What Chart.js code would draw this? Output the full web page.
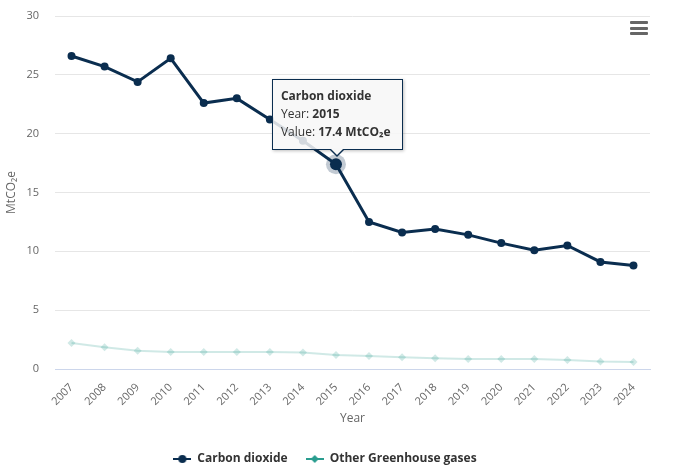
<!DOCTYPE html>
<html>
<head>
<meta charset="utf-8">
<script src="https://cdn.jsdelivr.net/npm/chart.js@4.4.0/dist/chart.umd.js"></script>
<style>
  html, body { margin: 0; padding: 0; background: #fff; }
  #wrap { position: relative; width: 676px; height: 475px; }
  #menu { position: absolute; left: 630px; top: 21px; width: 18px; }
  #menu div { height: 3px; background: #666; border-radius: 1px; margin-bottom: 2.5px; }
  #tip {
    position: absolute; display: none; box-sizing: border-box;
    width: 131px; height: 71px; padding: 7px 8px;
    background: rgba(247,247,247,0.85); border: 1px solid #0a2d4f;
    box-shadow: 1px 1px 3px rgba(0,0,0,0.25);
    font: 12px "Open Sans", sans-serif; color: #333; line-height: 18px;
  }
  #tip b { font-weight: bold; }
  #tip .caret, #tip .caret2 {
    position: absolute; left: 50%; width: 0; height: 0; border-style: solid;
  }
  #tip .caret { bottom: -8px; margin-left: -8px; border-width: 8px 8px 0 8px; border-color: #0a2d4f transparent transparent transparent; }
  #tip .caret2 { bottom: -6px; margin-left: -7px; border-width: 7px 7px 0 7px; border-color: #f7f7f7 transparent transparent transparent; }
</style>
</head>
<body>
<div id="wrap">
  <canvas id="chart" width="676" height="475"></canvas>
  <div id="menu"><div></div><div></div><div></div></div>
  <div id="tip"></div>
</div>
<script>
// dati (MtCO2e)
const years = ['2007', '2008', '2009', '2010', '2011', '2012', '2013', '2014', '2015',
    '2016', '2017', '2018', '2019', '2020', '2021', '2022', '2023', '2024'];
const carbonDioxide = [26.6, 25.7, 24.4, 26.4, 22.6, 23.0, 21.2, 19.4, 17.4,
    12.5, 11.6, 11.9, 11.4, 10.7, 10.1, 10.5, 9.1, 8.8];
const otherGases = [2.2, 1.85, 1.55, 1.45, 1.45, 1.45, 1.45, 1.4, 1.2,
    1.1, 1.0, 0.92, 0.85, 0.85, 0.85, 0.76, 0.63, 0.6];
const yTicks = [0, 5, 10, 15, 20, 25, 30];

const seriesNames = ['Carbon dioxide', 'Other Greenhouse gases'];
const navy = '#0a2d4f';
const teal = '#2a9d8f';
const tealFaded = 'rgba(42,157,143,0.22)';
const activeIndex = 8;

const FONT = '"Open Sans", sans-serif';

// icona della legenda: linea con marker al centro
function legendIcon(color, diamond) {
    const c = document.createElement('canvas');
    c.width = 18; c.height = 10;
    const g = c.getContext('2d');
    g.strokeStyle = color; g.fillStyle = color; g.lineWidth = 2;
    g.beginPath(); g.moveTo(0, 5); g.lineTo(18, 5); g.stroke();
    g.beginPath();
    if (diamond) {
        g.moveTo(9, 1); g.lineTo(13, 5); g.lineTo(9, 9); g.lineTo(5, 5); g.closePath();
    } else {
        g.arc(9, 5, 4, 0, Math.PI * 2);
    }
    g.fill();
    return c;
}

// alone grigio attorno al punto attivo
const haloPlugin = {
    id: 'halo',
    beforeDatasetsDraw(chart) {
        const active = chart.getActiveElements();
        if (!active.length) return;
        const el = active[0].element;
        const ctx = chart.ctx;
        ctx.save();
        ctx.fillStyle = 'rgba(10,45,79,0.25)';
        ctx.beginPath();
        ctx.arc(el.x, el.y, 10, 0, Math.PI * 2);
        ctx.fill();
        ctx.restore();
    }
};

function externalTooltip(context) {
    const tip = document.getElementById('tip');
    const model = context.tooltip;
    if (model.opacity === 0 || !model.dataPoints || !model.dataPoints.length) {
        tip.style.display = 'none';
        return;
    }
    const dp = model.dataPoints[0];
    tip.innerHTML =
        '<b>' + dp.dataset.label + '</b><br>' +
        'Year: <b>' + dp.label + '</b><br>' +
        'Value: <b>' + dp.formattedValue + ' MtCO\u2082e</b>' +
        '<span class="caret"></span><span class="caret2"></span>';
    tip.style.display = 'block';
    tip.style.left = (model.caretX - 64) + 'px';
    tip.style.top = (model.caretY - 85) + 'px';
}

const ctx = document.getElementById('chart').getContext('2d');
const chart = new Chart(ctx, {
    type: 'line',
    data: {
        labels: years,
        datasets: [{
            label: seriesNames[0],
            data: carbonDioxide,
            borderColor: navy,
            backgroundColor: navy,
            borderWidth: 3,
            pointRadius: 4,
            pointBorderWidth: 0,
            pointHoverRadius: 6,
            pointHoverBorderWidth: 0,
            pointHoverBackgroundColor: navy,
            pointStyle: 'circle',
            tension: 0
        }, {
            label: seriesNames[1],
            data: otherGases,
            borderColor: tealFaded,
            backgroundColor: tealFaded,
            borderWidth: 2,
            pointRadius: 4,
            pointBorderWidth: 0,
            pointStyle: 'rectRot',
            tension: 0
        }]
    },
    options: {
        responsive: false,
        animation: false,
        events: [],
        layout: { autoPadding: false, padding: { left: 0, right: 26, top: 16, bottom: 0 } },
        interaction: { mode: 'nearest', intersect: true },
        scales: {
            x: {
                offset: true,
                grid: { display: false, drawTicks: false },
                border: { display: true, color: '#ccd6eb', width: 1 },
                ticks: {
                    color: '#666666',
                    font: { family: FONT, size: 11 },
                    minRotation: 45, maxRotation: 45,
                    padding: 12,
                    autoSkip: false
                },
                title: {
                    display: true, text: 'Year', color: '#666666',
                    font: { family: FONT, size: 12 },
                    padding: { top: 4, bottom: 9 }
                },
                afterFit(scale) { scale.height = 66; }
            },
            y: {
                min: 0, max: 30,
                afterBuildTicks(scale) { scale.ticks = yTicks.map(v => ({ value: v })); },
                grid: { color: '#e6e6e6', drawTicks: false },
                border: { display: false },
                ticks: {
                    color: '#666666',
                    font: { family: FONT, size: 11 },
                    padding: 16
                },
                title: {
                    display: true, text: 'MtCO\u2082e', color: '#666666',
                    font: { family: FONT, size: 12 },
                    padding: { top: 4, bottom: 0 }
                },
                afterFit(scale) {
                    scale.width = 55;
                    scale.paddingTop = 0;
                    scale.paddingBottom = 0;
                }
            }
        },
        plugins: {
            legend: {
                position: 'bottom',
                labels: {
                    color: '#333333',
                    font: { family: FONT, size: 12, weight: 'bold' },
                    usePointStyle: true,
                    pointStyleWidth: 18,
                    padding: 18,
                    generateLabels(chart) {
                        return seriesNames.map((name, i) => ({
                            text: name,
                            datasetIndex: i,
                            pointStyle: legendIcon(i === 0 ? navy : teal, i === 1),
                            fillStyle: i === 0 ? navy : teal,
                            strokeStyle: i === 0 ? navy : teal,
                            lineWidth: 0,
                            fontColor: '#333333'
                        }));
                    }
                }
            },
            tooltip: {
                enabled: false,
                external: externalTooltip
            }
        }
    },
    plugins: [haloPlugin]
});

// attiva il tooltip sul punto del 2015
const meta = chart.getDatasetMeta(0);
const pt = meta.data[activeIndex];
chart.setActiveElements([{ datasetIndex: 0, index: activeIndex }]);
chart.tooltip.setActiveElements([{ datasetIndex: 0, index: activeIndex }], { x: pt.x, y: pt.y });
chart.update();
</script>
</body>
</html>
